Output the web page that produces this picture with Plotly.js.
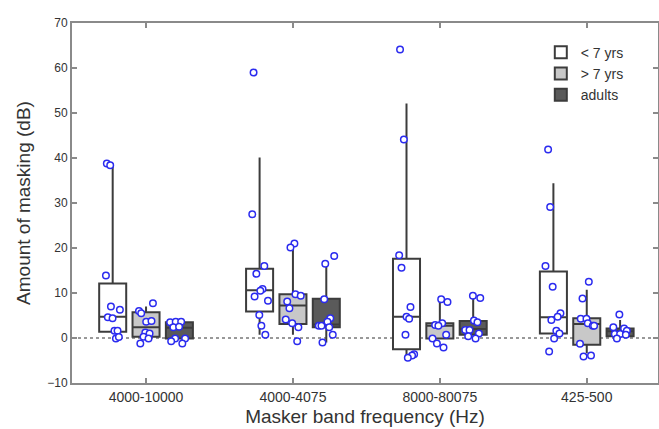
<!DOCTYPE html>
<html>
<head>
<meta charset="utf-8">
<script src="https://cdn.plot.ly/plotly-3.0.1.min.js"></script>
<style>html,body{margin:0;padding:0;background:#fff;}#chart{width:659px;height:429px;}</style>
</head>
<body>
<div id="chart"></div>
<script>
// ---- data ----
const categories = ["4000-10000", "4000-4075", "8000-80075", "425-500"];
const groupNames = ["< 7 yrs", "> 7 yrs", "adults"];

// box statistics per group (one value per category)
const lt7_q1 = [1.4, 5.9, -2.5, 1.0];
const lt7_median = [4.7, 10.6, 4.7, 4.6];
const lt7_q3 = [12.1, 15.4, 17.6, 14.8];
const lt7_lower = [1.4, 0.7, -4.5, 1.0];
const lt7_upper = [38.8, 40.1, 52.1, 34.4];

const gt7_q1 = [0.3, 3.1, -0.1, -1.5];
const gt7_median = [2.4, 7.2, 2.7, 3.1];
const gt7_q3 = [5.7, 9.7, 3.3, 4.4];
const gt7_lower = [0.3, 0.7, -0.1, -3.4];
const gt7_upper = [7.0, 20.7, 8.6, 10.7];

const ad_q1 = [-0.1, 2.4, 0.7, 0.4];
const ad_median = [2.3, 3.0, 2.0, 1.5];
const ad_q3 = [3.5, 8.7, 3.8, 2.1];
const ad_lower = [-0.1, -1.0, 0.7, 0.4];
const ad_upper = [3.5, 15.9, 9.4, 4.0];

// individual listener values (dB) per category
const lt7_pts = [
  [38.8, 38.4, 13.9, 7.0, 6.3, 4.6, 4.4, 1.6, 1.6, -0.1, 0.2],
  [59.0, 27.5, 16.0, 14.3, 10.9, 10.5, 9.2, 8.3, 5.1, 2.7, 0.7],
  [64.1, 44.1, 18.4, 15.6, 6.9, 4.7, 4.3, 0.7, -3.6, -3.9, -4.4],
  [41.9, 29.1, 16.0, 11.4, 5.5, 4.7, 4.0, 1.6, 1.0, -0.1, -3.0]
];
const gt7_pts = [
  [7.7, 6.0, 5.5, 3.6, 3.8, 1.2, 1.0, 0.3, -0.1, -1.2],
  [21.0, 20.1, 9.7, 9.4, 8.1, 6.6, 4.1, 3.3, 2.4, -0.7],
  [8.6, 8.0, 3.3, 2.9, 2.7, 0.7, -0.1, -1.2, -2.1],
  [12.5, 8.8, 4.3, 4.3, 3.3, 2.7, 2.7, -1.3, -4.1, -3.9]
];
const ad_pts = [
  [3.5, 3.6, 3.6, 2.4, 2.5, -0.1, -0.7, -0.1, -1.2],
  [18.2, 16.5, 8.6, 4.4, 3.6, 2.7, 2.7, 2.4, 0.7, -1.0],
  [9.4, 8.9, 3.9, 3.5, 1.8, 1.8, 1.0, 0.4, -0.1],
  [5.2, 2.4, 2.1, 1.6, 0.9, 0.9, 0.7, -0.1]
];
// horizontal jitter of each point (in category units)
const lt7_jit = [
  [-0.04, -0.017, -0.046, -0.012, 0.049, -0.033, -0.001, 0.012, 0.033, 0.022, 0.042],
  [-0.041, -0.05, 0.032, -0.022, 0.02, 0.005, -0.034, 0.057, -0.002, 0.012, 0.039],
  [-0.044, -0.018, -0.05, -0.034, 0.027, 0, 0.018, -0.007, 0.052, 0.038, 0.009],
  [-0.036, -0.022, -0.054, -0.005, 0.048, 0.029, -0.014, 0.02, 0.041, 0.005, -0.029]
];
const gt7_jit = [
  [0.047, -0.048, -0.033, 0.001, 0.037, -0.005, 0.024, -0.017, 0.017, -0.039],
  [0.01, -0.017, 0.017, 0.053, -0.039, -0.024, -0.049, -0.005, 0.037, 0.029],
  [0.009, 0.052, 0.016, -0.032, -0.01, 0.043, -0.05, -0.02, 0.025],
  [0.014, -0.029, -0.041, -0.002, 0.007, 0.041, 0.05, -0.046, -0.022, 0.029]
];
const ad_jit = [
  [-0.063, -0.025, 0.012, -0.041, -0.002, -0.029, -0.056, 0.039, 0.02],
  [0.054, -0.007, -0.014, 0.027, 0.008, -0.051, -0.033, 0.02, 0.044, -0.026],
  [-0.002, 0.048, 0.005, 0.029, -0.054, -0.025, 0.039, -0.034, 0.016],
  [-0.005, -0.046, 0.027, 0.046, -0.036, 0, 0.039, -0.022]
];

// ---- layout helpers ----
const catPos = categories.map((c, i) => i + 1);
const offsets = [-0.227, 0, 0.227];
const fills = ["#ffffff", "#c8c8c8", "#5a5a5a"];
const stats = [
  [lt7_q1, lt7_median, lt7_q3, lt7_lower, lt7_upper],
  [gt7_q1, gt7_median, gt7_q3, gt7_lower, gt7_upper],
  [ad_q1, ad_median, ad_q3, ad_lower, ad_upper]
];
const pts = [lt7_pts, gt7_pts, ad_pts];
const jits = [lt7_jit, gt7_jit, ad_jit];

const traces = [];
groupNames.forEach((name, k) => {
  const s = stats[k];
  traces.push({
    type: "box",
    name: name,
    x: catPos.map(p => p + offsets[k]),
    q1: s[0], median: s[1], q3: s[2], lowerfence: s[3], upperfence: s[4],
    width: 0.184,
    whiskerwidth: 0,
    fillcolor: fills[k],
    line: {color: "#3c3c3c", width: 2},
    boxpoints: false,
    hoverinfo: "skip"
  });
});
groupNames.forEach((name, k) => {
  const xs = [], ys = [];
  pts[k].forEach((arr, ci) => {
    arr.forEach((v, j) => {
      xs.push(catPos[ci] + offsets[k] + jits[k][ci][j]);
      ys.push(v);
    });
  });
  traces.push({
    type: "scatter",
    mode: "markers",
    x: xs, y: ys,
    showlegend: false,
    marker: {symbol: "circle", size: 6.5, color: "#ffffff", line: {color: "#2b2bef", width: 1.5}},
    hoverinfo: "skip"
  });
});

const axisCommon = {
  showline: true, mirror: "ticks", linecolor: "#8a8a8a", linewidth: 2,
  ticks: "inside", ticklen: 5, tickwidth: 1.5, tickcolor: "#8a8a8a",
  showgrid: false, zeroline: false
};

const layout = {
  width: 659, height: 429,
  margin: {l: 72, r: 1, t: 23, b: 46},
  paper_bgcolor: "#ffffff", plot_bgcolor: "#ffffff",
  font: {family: "Liberation Sans, Arial, sans-serif", color: "#333333"},
  showlegend: true,
  legend: {
    x: 0.80, y: 0.962, xanchor: "left", yanchor: "top",
    bgcolor: "rgba(0,0,0,0)", font: {size: 14, color: "#333333"},
    tracegroupgap: 0
  },
  xaxis: Object.assign({}, axisCommon, {
    range: [0.496, 4.485],
    tickvals: catPos, ticktext: categories,
    tickfont: {size: 14, color: "#333333"},
    title: {text: "Masker band frequency (Hz)", font: {size: 19, color: "#333333"}, standoff: 6}
  }),
  yaxis: Object.assign({}, axisCommon, {
    range: [-10, 70], dtick: 10,
    tickfont: {size: 12, color: "#333333"},
    title: {text: "Amount of masking (dB)", font: {size: 19, color: "#333333"}, standoff: 12}
  }),
  shapes: [{
    type: "line", xref: "paper", x0: 0, x1: 1, yref: "y", y0: 0, y1: 0,
    line: {color: "#333333", width: 1, dash: "dot"}, layer: "below"
  }]
};

Plotly.newPlot("chart", traces, layout, {staticPlot: true, displayModeBar: false});
</script>
</body>
</html>
